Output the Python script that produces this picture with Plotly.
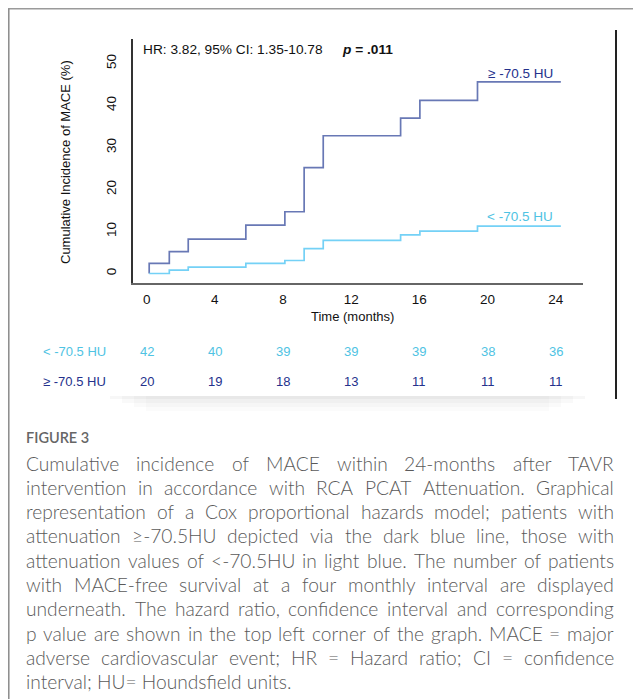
import glob
import plotly.graph_objects as go

# ---------------- data ----------------
# Cox-model cumulative incidence of MACE (%) - step functions
event_times = [0.15, 1.33, 2.44, 5.82, 8.11, 9.24, 10.36, 14.90, 16.03, 19.41]
end_time = 24.3
high_group_inc = [2.4, 5.2, 8.2, 11.5, 14.7, 25.2, 32.8, 37.0, 41.2, 45.6]   # >= -70.5 HU
low_group_inc = [0.0, 0.8, 1.5, 2.4, 3.1, 5.9, 7.9, 9.2, 10.1, 11.3]        # < -70.5 HU

x_ticks = [0, 4, 8, 12, 16, 20, 24]
y_ticks = [0, 10, 20, 30, 40, 50]

risk_times = [0, 4, 8, 12, 16, 20, 24]
risk_low = [42, 40, 39, 39, 39, 38, 36]
risk_high = [20, 19, 18, 13, 11, 11, 11]

label_high = "\u2265 -70.5 HU"
label_low = "< -70.5 HU"
stats_text = "HR: 3.82, 95% CI: 1.35-10.78"
p_text = "<b><i>p</i> = .011</b>"

caption_head = "FIGURE 3"
caption_lines = [
    "Cumulative incidence of MACE within 24-months after TAVR",
    "intervention in accordance with RCA PCAT Attenuation. Graphical",
    "representation of a Cox proportional hazards model; patients with",
    "attenuation \u2265-70.5HU depicted via the dark blue line, those with",
    "attenuation values of <-70.5HU in light blue. The number of patients",
    "with MACE-free survival at a four monthly interval are displayed",
    "underneath.  The hazard ratio, confidence interval and corresponding",
    "p value are shown in the top left corner of the graph. MACE = major",
    "adverse cardiovascular event; HR = Hazard ratio; CI = confidence",
    "interval; HU= Houndsfield units.",
]

# ---------------- styles ----------------
OFF = 8                      # page body margin of the html page
W, H = 641 - OFF, 699 - OFF
DARK_LINE = "#6878b5"
LIGHT_LINE = "#74d1f6"
DARK_TEXT = "#24318c"
LIGHT_TEXT = "#4fc3e3"
AX_FONT = "Liberation Sans, Arial, sans-serif"
CAP_FONT = "Lato, Open Sans, sans-serif"
CAP_SIZE = 19.2
CAP_LEFT, CAP_RIGHT = 25, 613


def px(x):
    return (x - OFF) / W


def py(y):
    return 1 - (y - OFF) / H


# text measurement for justified caption
measure = None
try:
    from PIL import ImageFont
    cands = glob.glob("/usr/share/fonts/**/Lato-Light.ttf", recursive=True)
    if cands:
        _f = ImageFont.truetype(cands[0], 200)
        measure = lambda s: _f.getlength(s) / 200.0 * CAP_SIZE
except Exception:
    measure = None

fig = go.Figure()

fig.add_trace(go.Scatter(
    x=[event_times[0]] + event_times + [end_time],
    y=[0] + high_group_inc + [high_group_inc[-1]],
    mode="lines", line=dict(shape="hv", color=DARK_LINE, width=1.7),
    hoverinfo="skip", showlegend=False))
fig.add_trace(go.Scatter(
    x=event_times + [end_time],
    y=low_group_inc + [low_group_inc[-1]],
    mode="lines", line=dict(shape="hv", color=LIGHT_LINE, width=1.7),
    hoverinfo="skip", showlegend=False))

ann = []


def add_text(text, x, y, size=13, color="#111", xanchor="left", family=AX_FONT,
             xref="paper", weight=None, angle=0):
    f = dict(family=family, size=size, color=color)
    if weight:
        f["weight"] = weight
    ann.append(dict(text=text, x=x, y=y, xref=xref, yref="paper", xanchor=xanchor,
                    yanchor="middle", showarrow=False, textangle=angle, font=f,
                    borderpad=0))


add_text(stats_text, px(142), py(50), size=13.7)
add_text(p_text, px(341), py(50), size=13.7)
add_text(label_high, px(554), py(73), size=13.5, color=DARK_TEXT, xanchor="right")
add_text(label_low, px(554), py(217), size=13.5, color=LIGHT_TEXT, xanchor="right")
add_text("Cumulative Incidence of MACE (%)", px(66), py(162), xanchor="center", angle=-90)
add_text("Time (months)", px(352), py(316), xanchor="center")

# risk table
add_text(label_low, px(42), py(352), color=LIGHT_TEXT)
add_text(label_high, px(42), py(381), color=DARK_TEXT)
for t, a, b in zip(risk_times, risk_low, risk_high):
    add_text(str(a), t, py(352), color=LIGHT_TEXT, xanchor="center", xref="x")
    add_text(str(b), t, py(381), color=DARK_TEXT, xanchor="center", xref="x")

# caption
add_text(caption_head, px(25), py(437), size=14.5, color="#666666", family=CAP_FONT,
         weight=600)
for i, line in enumerate(caption_lines):
    y = py(463 + i * 24.3)
    last = i == len(caption_lines) - 1
    if measure is None or last:
        add_text(line, px(CAP_LEFT), y, size=CAP_SIZE, color="#5a5a5a",
                 family=CAP_FONT, weight=300)
        continue
    words = line.split()
    widths = [measure(w) for w in words]
    gap = (CAP_RIGHT - CAP_LEFT - sum(widths)) / (len(words) - 1)
    xpos = CAP_LEFT
    for w, wd in zip(words, widths):
        add_text(w, px(xpos), y, size=CAP_SIZE, color="#5a5a5a", family=CAP_FONT,
                 weight=300)
        xpos += wd + gap

shapes = [
    dict(type="line", xref="paper", yref="paper", x0=0, x1=1, y0=py(8.8), y1=py(8.8),
         line=dict(color="#9a9a9a", width=1.5)),
    dict(type="line", xref="paper", yref="paper", x0=px(8.8), x1=px(8.8), y0=py(8.8), y1=0,
         line=dict(color="#8a8a8a", width=1.5)),
    dict(type="line", xref="paper", yref="paper", x0=px(616), x1=px(616), y0=py(30), y1=py(399),
         line=dict(color="#222", width=2)),
]
# faint shadow under the chart picture
for k, op in enumerate([0.03, 0.025, 0.02, 0.015]):
    shapes.append(dict(type="rect", xref="paper", yref="paper", layer="below",
                       x0=px(110 + k * 12), x1=px(585 - k * 12), y0=py(399 + k * 4), y1=py(396),
                       line=dict(width=0), fillcolor="rgba(0,0,0,%s)" % op))

fig.update_layout(
    width=W, height=H, margin=dict(l=0, r=0, t=0, b=0),
    paper_bgcolor="white", plot_bgcolor="rgba(0,0,0,0)",
    showlegend=False, annotations=ann, shapes=shapes,
    xaxis=dict(domain=[px(133), px(583)], range=[-0.8, 25.6], tickvals=x_ticks,
               showline=True, linecolor="#666", linewidth=1.5, ticks="",
               showgrid=False, zeroline=False, ticklabelstandoff=3,
               tickfont=dict(family=AX_FONT, size=13.5, color="#111")),
    yaxis=dict(domain=[py(283), py(39)], range=[-2.26, 55.83], tickvals=y_ticks,
               tickangle=-90, showline=True, linecolor="#333", linewidth=1.5, ticks="",
               showgrid=False, zeroline=False, ticklabelstandoff=10,
               tickfont=dict(family=AX_FONT, size=13.5, color="#111")),
)

fig.write_html("out.html")
